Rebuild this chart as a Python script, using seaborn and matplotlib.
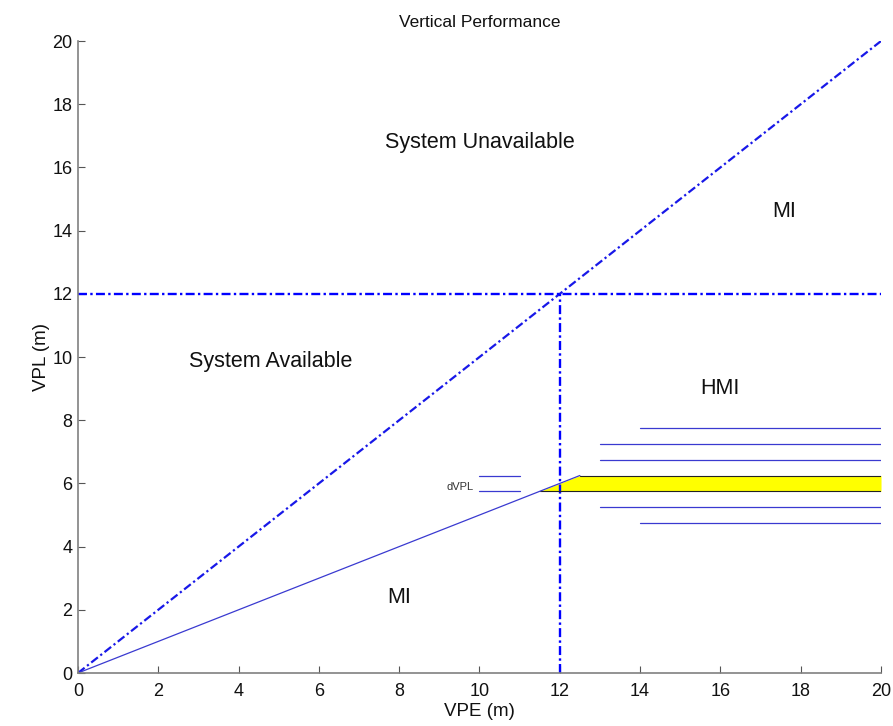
import matplotlib
matplotlib.use("Agg")
import matplotlib.pyplot as plt
import seaborn as sns
import pandas as pd

# Data
diag_x = [0, 20]
diag_y = [0, 20]
hal_y = 12
val_x = 12
vpl_line_x = [0, 11.5, 12.5]
vpl_line_y = [0, 5.75, 6.25]
band_x = [11.5, 12.5, 20]
band_low = [5.75, 5.75, 5.75]
band_high = [5.75, 6.25, 6.25]
band_edge_low = 5.75
band_edge_high = 6.25
dvpl_x = [10, 11]
dvpl_levels = [5.75, 6.25]
stack_levels = [7.75, 7.25, 6.75, 5.25, 4.75]
stack_start = [14, 13, 13, 13, 14]
stack_end = 20
labels = ["System Unavailable", "MI", "System Available", "HMI", "MI"]
label_x = [10.0, 17.6, 4.8, 16.0, 8.0]
label_y = [16.8, 14.6, 9.85, 9.0, 2.4]
ticks = list(range(0, 21, 2))

sns.set_theme(style="ticks")
plt.rcParams['font.family'] = ['Liberation Sans', 'DejaVu Sans']

fig = plt.figure(figsize=(8.93, 7.26), dpi=100)
ax = fig.add_axes([0.0873, 0.073, 0.8993, 0.8705])

blue = "#0000ff"
thin = "#3a3ad0"
dd = (3.8, 1.4, 1.0, 1.4)

# dash-dot reference lines
sns.lineplot(x=diag_x, y=diag_y, ax=ax, color="#1818e8", lw=1.6)
ax.lines[-1].set_dashes(dd)
sns.lineplot(x=[0, 20], y=[hal_y, hal_y], ax=ax, color=blue, lw=1.7)
ax.lines[-1].set_dashes(dd)
ax.plot([val_x, val_x], [0, hal_y], color=blue, lw=1.7, dashes=dd)

# yellow band
ax.fill_between(band_x, band_low, band_high, color="yellow", lw=0)
ax.plot([band_x[0], 20], [band_edge_low, band_edge_low], color="#222222", lw=0.8)
ax.plot([band_x[1], 20], [band_edge_high, band_edge_high], color="#222222", lw=0.8)

# VPL line
ax.plot(vpl_line_x, vpl_line_y, color=thin, lw=0.9)

# dVPL markers
for lv in dvpl_levels:
    ax.plot(dvpl_x, [lv, lv], color=thin, lw=0.9)
ax.text(9.85, 5.88, "dVPL", fontsize=8, ha="right", va="center", color="#333333")

# stacked lines
for lv, st in zip(stack_levels, stack_start):
    ax.plot([st, stack_end], [lv, lv], color=thin, lw=0.9)

for t, x, y in zip(labels, label_x, label_y):
    ax.text(x, y, t, fontsize=15.5, ha="center", va="center", color="#111111")

ax.set_xlim(0, 20)
ax.set_ylim(0, 20)
ax.set_xticks(ticks)
ax.set_yticks(ticks)
ax.tick_params(direction="in", length=5, width=0.8, color="#555555", labelsize=13, labelcolor="#111111")
ax.tick_params(axis="x", pad=7)
ax.tick_params(axis="y", pad=4)
for s in ["top", "right"]:
    ax.spines[s].set_visible(False)
for s in ["left", "bottom"]:
    ax.spines[s].set_color("#808080")
    ax.spines[s].set_linewidth(1.2)
ax.set_xlabel("VPE (m)", fontsize=13.5, labelpad=2, color="#111111")
ax.set_ylabel("VPL (m)", fontsize=13.5, labelpad=2, color="#111111")
ax.set_title("Vertical Performance", fontsize=12.5, pad=10, color="#111111")

fig.savefig("out.png", dpi=100)
